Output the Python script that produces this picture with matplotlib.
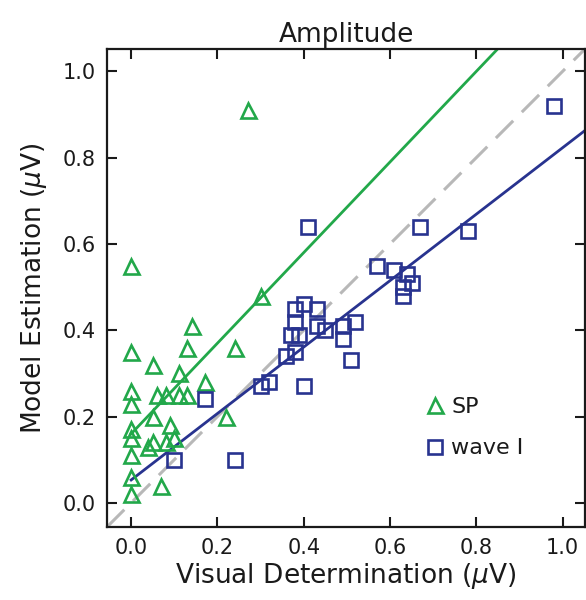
import matplotlib
matplotlib.use("Agg")
import matplotlib.pyplot as plt
import numpy as np

plt.rcParams['font.family'] = ['DejaVu Sans']

# SP (green triangles)
sp_x = [0.00, 0.30, 0.14, 0.00, 0.13, 0.24, 0.27, 0.05, 0.11, 0.17, 0.00, 0.06, 0.08,
        0.11, 0.13, 0.00, 0.05, 0.22, 0.00, 0.09, 0.00, 0.05, 0.04, 0.08, 0.10, 0.00,
        0.00, 0.07, 0.00]
sp_y = [0.55, 0.48, 0.41, 0.35, 0.36, 0.36, 0.91, 0.32, 0.30, 0.28, 0.26, 0.25, 0.25,
        0.25, 0.25, 0.23, 0.20, 0.20, 0.17, 0.18, 0.15, 0.14, 0.13, 0.14, 0.15, 0.11,
        0.06, 0.04, 0.02]

# wave I (blue squares)
w1_x = [0.10, 0.24, 0.17, 0.30, 0.32, 0.40, 0.36, 0.38, 0.37, 0.39, 0.38, 0.38, 0.40,
        0.43, 0.43, 0.45, 0.49, 0.49, 0.51, 0.52, 0.41, 0.57, 0.61, 0.64, 0.65, 0.63,
        0.63, 0.67, 0.78, 0.98]
w1_y = [0.10, 0.10, 0.24, 0.27, 0.28, 0.27, 0.34, 0.35, 0.39, 0.39, 0.42, 0.45, 0.46,
        0.45, 0.41, 0.40, 0.41, 0.38, 0.33, 0.42, 0.64, 0.55, 0.54, 0.53, 0.51, 0.50,
        0.48, 0.64, 0.63, 0.92]

# regression fits (intercept, slope)
sp_fit = (0.16, 1.05)
w1_fit = (0.053, 0.77)

ticks = [0.0, 0.2, 0.4, 0.6, 0.8, 1.0]
tick_labels = ['0.0', '0.2', '0.4', '0.6', '0.8', '1.0']

green = '#22a84a'
blue = '#28338f'
ink = '#1a1a1a'

fig = plt.figure(figsize=(5.86, 6.0), dpi=100)
ax = fig.add_axes([0.1826, 0.1217, 0.8157, 0.7967])

lo, hi = -0.056, 1.052
ax.set_xlim(lo, hi)
ax.set_ylim(lo, hi)

# identity line
ax.plot([lo, hi], [lo, hi], color='#b8b8b8', lw=2.2, dashes=(8, 4), zorder=1)

xs = np.array([0.0, hi])
ax.plot(xs, sp_fit[0] + sp_fit[1] * xs, color=green, lw=2.0, zorder=2)
ax.plot(xs, w1_fit[0] + w1_fit[1] * xs, color=blue, lw=2.0, zorder=2)

ax.plot(sp_x, sp_y, linestyle='none', marker='^', markersize=10.8, mfc='none',
        mec=green, mew=1.9, label='SP', zorder=3)
ax.plot(w1_x, w1_y, linestyle='none', marker='s', markersize=9.8, mfc='none',
        mec=blue, mew=1.9, label='wave I', zorder=3)

ax.set_xticks(ticks)
ax.set_xticklabels(tick_labels)
ax.set_yticks(ticks)
ax.set_yticklabels(tick_labels)
ax.tick_params(direction='in', length=7, width=1.5, top=True, right=True,
               labelsize=15, pad=8, colors=ink)
for s in ax.spines.values():
    s.set_linewidth(1.6)
    s.set_color(ink)

ax.set_title('Amplitude', fontsize=19, pad=5, color=ink)
ax.set_xlabel('Visual Determination ($\\mu$V)', fontsize=19, labelpad=2, color=ink)
ax.set_ylabel('Model Estimation ($\\mu$V)', fontsize=19, labelpad=10, color=ink)

leg = ax.legend(loc='upper left', bbox_to_anchor=(0.65, 0.29), frameon=False,
                fontsize=16, handlelength=0.8, handletextpad=0.3, labelspacing=0.95,
                borderaxespad=0)
for t in leg.get_texts():
    t.set_color(ink)

fig.savefig('out.png', dpi=100)
